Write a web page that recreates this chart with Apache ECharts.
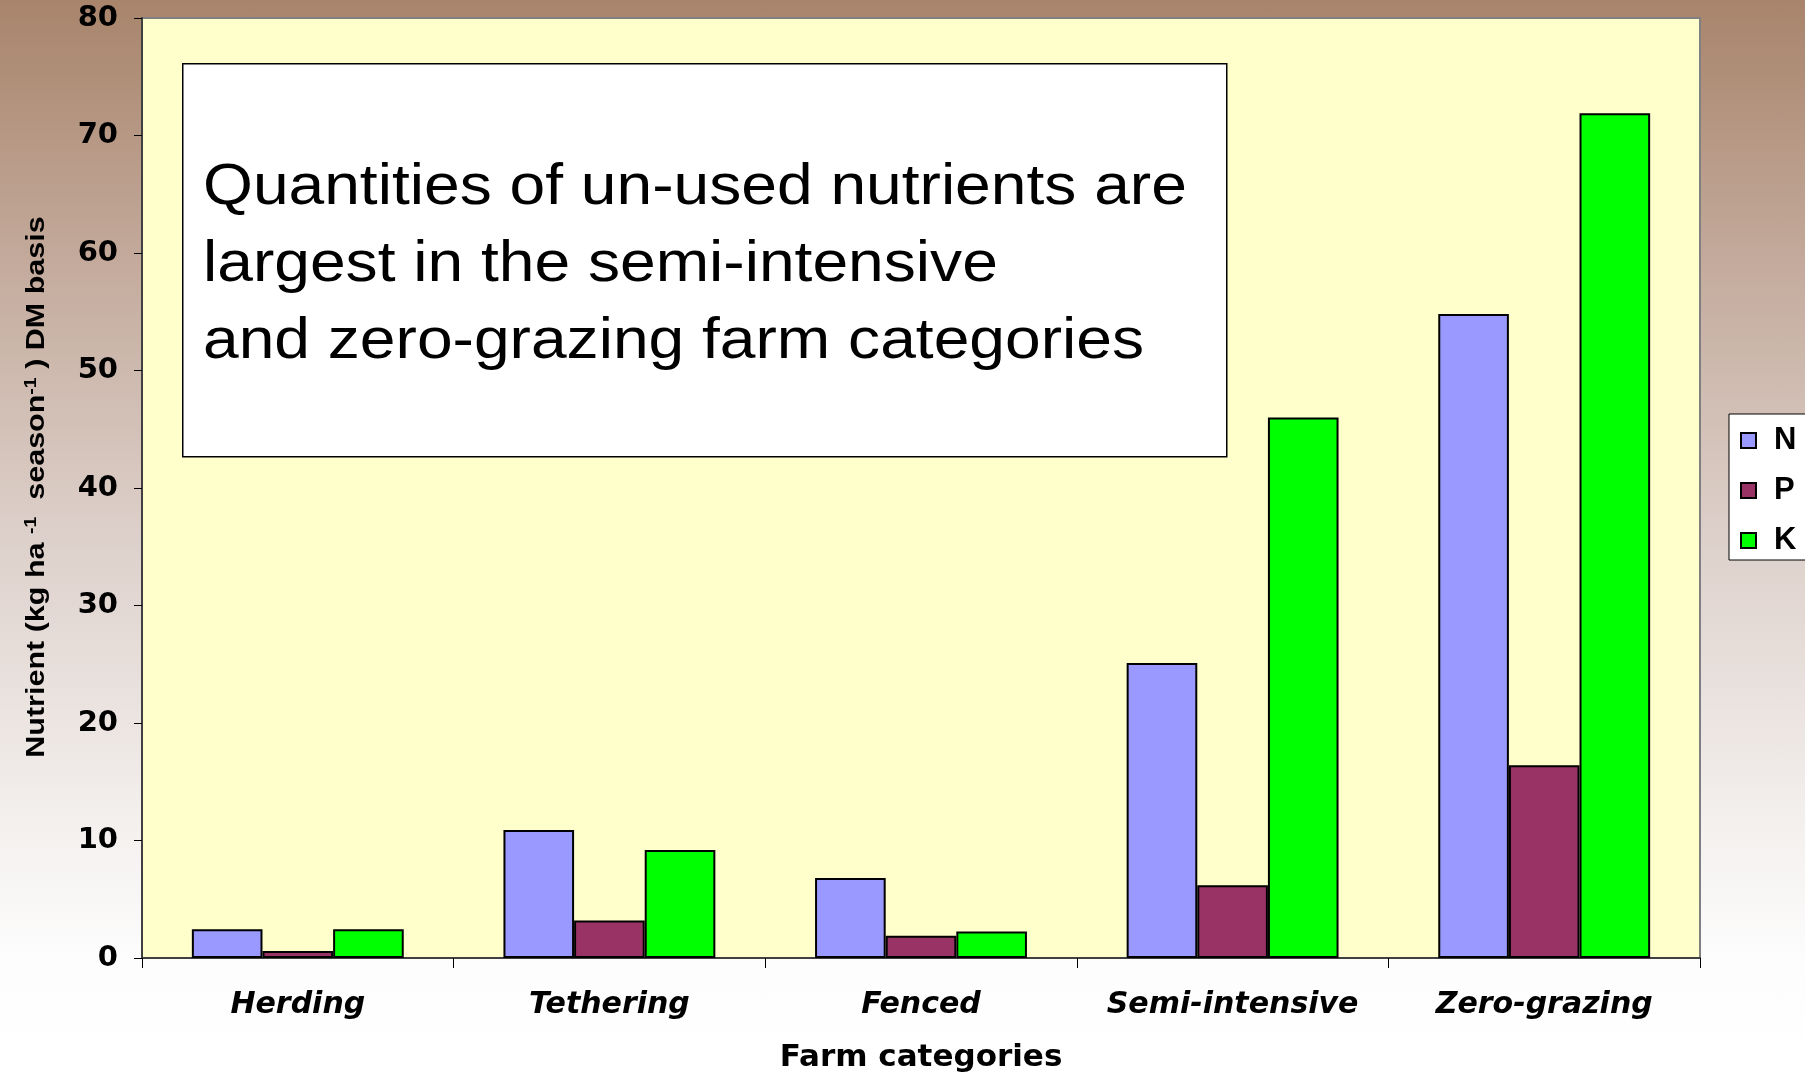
<!DOCTYPE html>
<html>
<head>
<meta charset="utf-8">
<script src="https://cdn.jsdelivr.net/npm/echarts@6/dist/echarts.min.js"></script>
<style>
html,body{margin:0;padding:0;}
body{width:1805px;height:1072px;background:linear-gradient(to bottom,#a8846b 0%,#c4ab9d 25%,#ddd0ca 50%,#f2eeec 75%,#fdfdfd 90%,#ffffff 100%);}
#chart{width:1805px;height:1072px;}
</style>
</head>
<body>
<div id="chart"></div>
<script>
const categories = ['Herding', 'Tethering', 'Fenced', 'Semi-intensive', 'Zero-grazing'];
const seriesNames = ['N', 'P', 'K'];
const valuesN = [2.45, 10.9, 6.8, 25.1, 54.8];
const valuesP = [0.6, 3.2, 1.9, 6.2, 16.4];
const valuesK = [2.45, 9.2, 2.25, 46.0, 71.9];
const seriesColors = ['#9999FF', '#993366', '#00FF00'];
const yTicks = { min: 0, max: 80, interval: 10 };
const yTitle = 'Nutrient (kg ha {sup|-1}  season{sup|-1} ) DM basis';
const xTitle = 'Farm categories';
const boxLines = ['Quantities of un-used nutrients are', 'largest in the semi-intensive', 'and zero-grazing farm categories'];

const chart = echarts.init(document.getElementById('chart'), null, { renderer: 'canvas' });
const seriesValues = [valuesN, valuesP, valuesK];

const option = {
  backgroundColor: 'transparent',
  animation: false,
  grid: {
    left: 142, right: 105, top: 18, bottom: 114,
    outerBoundsMode: 'none', containLabel: false,
    show: true, backgroundColor: '#FFFFCC', borderColor: '#808080', borderWidth: 2
  },
  legend: {
    orient: 'vertical',
    left: 1729, top: 414,
    itemWidth: 15, itemHeight: 15, itemGap: 19,
    padding: [11, 20, 9, 11],
    icon: 'rect',
    z: 20,
    itemStyle: { borderColor: '#000', borderWidth: 2 },
    textStyle: { fontFamily: 'Liberation Sans', fontWeight: 'bold', fontSize: 31, color: '#000', padding: [0, 0, 0, 13] },
    data: seriesNames
  },
  xAxis: {
    type: 'category',
    data: categories,
    axisLine: { lineStyle: { color: '#404040', width: 2 } },
    axisTick: { show: true, interval: 0, length: 10, lineStyle: { color: '#000', width: 1 } },
    axisLabel: { interval: 0, margin: 32, fontFamily: 'DejaVu Sans', fontStyle: 'italic', fontWeight: 'bold', fontSize: 30, color: '#000' },
    name: xTitle,
    nameLocation: 'middle',
    nameGap: 84,
    nameTextStyle: { fontFamily: 'DejaVu Sans', fontWeight: 'bold', fontSize: 31, color: '#000' }
  },
  yAxis: {
    type: 'value',
    min: yTicks.min, max: yTicks.max, interval: yTicks.interval,
    splitLine: { show: false },
    axisLine: { show: true, lineStyle: { color: '#404040', width: 2 } },
    axisTick: { show: true, length: 8, lineStyle: { color: '#000', width: 1 } },
    axisLabel: { margin: 24, fontFamily: 'DejaVu Sans', fontWeight: 'bold', fontSize: 29, color: '#000' }
  },
  series: seriesNames.map((n, i) => ({
    name: n,
    type: 'bar',
    data: seriesValues[i],
    barGap: '0%',
    barCategoryGap: '32%',
    itemStyle: { color: seriesColors[i], borderColor: '#000', borderWidth: 2 }
  })),
  graphic: [
    {
      type: 'rect', x: 1729, y: 414, z: -1, silent: true,
      shape: { width: 110, height: 146 },
      style: { fill: '#ffffff', stroke: '#000', lineWidth: 1 }
    },
    {
      type: 'text', x: 37, y: 487, rotation: Math.PI / 2, scaleX: 1.22, z: 50,
      style: {
        x: 0, y: 0, text: yTitle, align: 'center', verticalAlign: 'middle',
        fontFamily: 'Liberation Sans', fontWeight: 'bold', fontSize: 25, fill: '#000',
        rich: { sup: { fontFamily: 'Liberation Sans', fontWeight: 'bold', fontSize: 16, verticalAlign: 'top', fill: '#000', padding: [0, 0, 10, 0] } }
      }
    },
    {
      type: 'rect', left: 182, top: 63, z: 100,
      shape: { width: 1044, height: 393 },
      style: { fill: '#ffffff', stroke: '#000', lineWidth: 1.5 }
    },
    {
      type: 'text', x: 203, y: 150, scaleX: 1.125, z: 101,
      style: { x: 0, y: 0, text: boxLines.join('\n'), fontFamily: 'Liberation Sans', fontSize: 57, lineHeight: 77, fill: '#000' }
    }
  ]
};
chart.setOption(option);
</script>
</body>
</html>
